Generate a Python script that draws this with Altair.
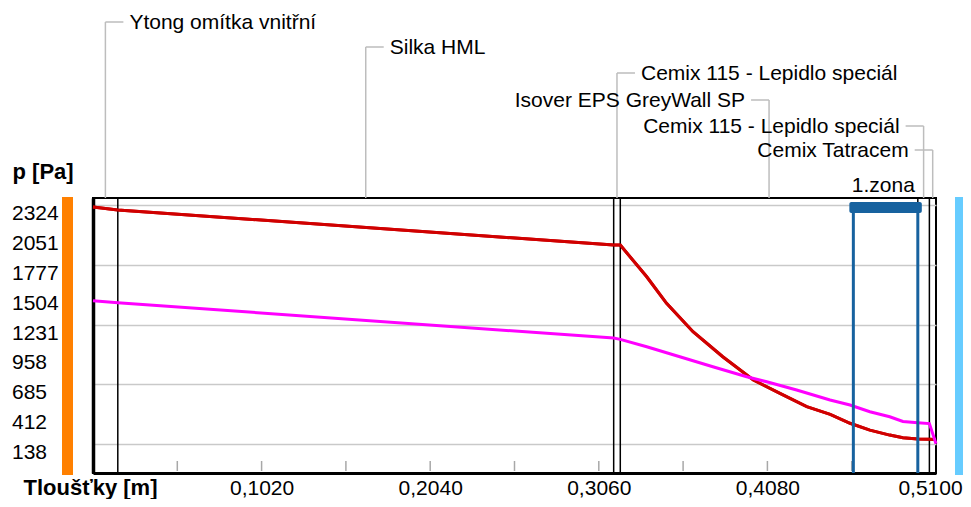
import altair as alt
import pandas as pd
from itertools import accumulate

# ---------------- data ----------------
layer_names = ["Ytong omítka vnitřní", "Silka HML", "Cemix 115 - Lepidlo speciál",
               "Isover EPS GreyWall SP", "Cemix 115 - Lepidlo speciál", "Cemix Tatracem"]
layer_thickness = [0.015, 0.300, 0.004, 0.180, 0.007, 0.004]

# saturated vapour pressure (red)
dist_psat = [0.000, 0.015, 0.315, 0.319, 0.335, 0.347, 0.363, 0.381, 0.3995, 0.4156,
             0.4318, 0.446, 0.458, 0.470, 0.482, 0.490, 0.499, 0.506, 0.510]
p_sat = [2308, 2281, 1960, 1959, 1669, 1426, 1166, 937, 724, 602,
         480, 410, 328, 265, 220, 195, 184, 181, 180]

# partial vapour pressure (magenta)
dist_p = [0.000, 0.015, 0.315, 0.319, 0.335, 0.355, 0.375, 0.3955, 0.4076, 0.4257,
          0.4459, 0.458, 0.470, 0.482, 0.490, 0.499, 0.506, 0.510]
p_part = [1450, 1431, 1108, 1096, 1029, 937, 846, 754, 708, 633,
          541, 495, 434, 388, 345, 333, 325, 140]

y_tick_values = [138, 412, 685, 958, 1231, 1504, 1777, 2051, 2324]
x_label_values = [0.102, 0.204, 0.306, 0.408, 0.510]
x_minor_ticks = [0.051, 0.102, 0.153, 0.204, 0.255, 0.306, 0.357, 0.408, 0.459]
zone_start, zone_end = 0.460, 0.499
zone_label = "1.zona"

# ---------------- layout / style ----------------
W, H = 843, 275
X_DOMAIN = [0, 0.51]
Y_DOMAIN = [-127, 2390]
FONT = "Liberation Sans"
label_rows = [-176, -151, -125, -98, -72, -48]          # px above plot top
label_side = ["right", "right", "right", "left", "left", "left"]
LEADER = "#bdbdbd"
ZONE_BLUE = "#17629f"

bounds = list(accumulate(layer_thickness))
centers = [b - t / 2 for b, t in zip(bounds, layer_thickness)]
inner_bounds = bounds[:-1]

xs = alt.Scale(domain=X_DOMAIN, nice=False, zero=False)
ys = alt.Scale(domain=Y_DOMAIN, nice=False, zero=False)

one = pd.DataFrame({"k": [0]})

df_sat = pd.DataFrame({"x": dist_psat, "p": p_sat})
df_p = pd.DataFrame({"x": dist_p, "p": p_part})
df_yt = pd.DataFrame({"p": y_tick_values})

x_axis = alt.Axis(values=x_label_values,
                  labelExpr="replace(format(datum.value, '.4f'), '.', ',')",
                  grid=False, ticks=False, domainColor="black", domainWidth=3,
                  labelFont=FONT, labelFontSize=21, labelColor="black",
                  labelPadding=21, labelBaseline="alphabetic", labelFlush=False,
                  labelOverlap=False,
                  labelOffset={"condition": {"test": "datum.value > 0.5", "value": -6},
                               "value": 0},
                  title="Tloušťky [m]", titleFont=FONT, titleFontSize=22,
                  titleFontWeight="bold", titleColor="black",
                  titleX=-70, titleY=21, titleAlign="left", titleBaseline="alphabetic")
y_axis = alt.Axis(values=y_tick_values, grid=True, gridColor="#c9c9c9",
                  gridWidth=1.5, ticks=False, labels=False,
                  domainColor="black", domainWidth=3.5,
                  title="p [Pa]", titleFont=FONT, titleFontSize=22, titleFontWeight="bold",
                  titleColor="black", titleAngle=0, titleX=-81, titleY=-20,
                  titleAlign="left", titleBaseline="alphabetic")


def X(field):
    return alt.X(field, type="quantitative", scale=xs)


layers = []

# curves layer carries both axes (and gridlines)
layers.append(alt.Chart(df_sat).mark_line(color="#d00000", strokeWidth=3).encode(
    x=alt.X("x:Q", scale=xs, axis=x_axis),
    y=alt.Y("p:Q", scale=ys, axis=y_axis)))

# y tick labels (left aligned, sitting just below their gridline)
layers.append(alt.Chart(df_yt).mark_text(align="left", baseline="middle", dy=9,
                                          font=FONT, fontSize=21, color="black").encode(
    x=alt.value(-81), y=alt.Y("p:Q", scale=ys), text=alt.Text("p:Q", format="d")))

# layer boundaries
df_b = pd.DataFrame({"x": inner_bounds})
layers.append(alt.Chart(df_b).mark_rule(color="black", strokeWidth=1.5).encode(
    x=X("x"), y=alt.value(0), y2=alt.value(H)))

# minor ticks at the bottom
df_t = pd.DataFrame({"x": x_minor_ticks})
layers.append(alt.Chart(df_t).mark_rule(color="#a8a8a8", strokeWidth=1.5).encode(
    x=X("x"), y=alt.value(H - 12), y2=alt.value(H - 2)))

layers.append(alt.Chart(df_sat).mark_line(color="#d00000", strokeWidth=3).encode(
    x=X("x"), y=alt.Y("p:Q", scale=ys)))
layers.append(alt.Chart(df_p).mark_line(color="#ff00ff", strokeWidth=3).encode(
    x=X("x"), y=alt.Y("p:Q", scale=ys)))

# zone
df_z = pd.DataFrame({"x": [zone_start, zone_end]})
layers.append(alt.Chart(df_z).mark_rule(color=ZONE_BLUE, strokeWidth=3).encode(
    x=X("x"), y=alt.value(4), y2=alt.value(H)))
df_zb = pd.DataFrame({"x": [zone_start], "x2": [zone_end], "lab": [zone_label]})
layers.append(alt.Chart(df_zb).mark_rect(color=ZONE_BLUE, xOffset=-4, x2Offset=4,
                                          cornerRadius=2).encode(
    x=X("x"), x2="x2:Q", y=alt.value(4), y2=alt.value(15)))
layers.append(alt.Chart(df_zb).mark_text(align="right", baseline="alphabetic", dx=-3,
                                          font=FONT, fontSize=21, color="black").encode(
    x=X("x2"), y=alt.value(-6), text="lab:N"))

# layer name labels with leader lines
for name, c, ry, side in zip(layer_names, centers, label_rows, label_side):
    d = pd.DataFrame({"x": [c], "name": [name]})
    sgn = 1 if side == "right" else -1
    layers.append(alt.Chart(d).mark_rule(color=LEADER, strokeWidth=1.5).encode(
        x=X("x"), y=alt.value(ry), y2=alt.value(0)))
    layers.append(alt.Chart(d).mark_rule(color=LEADER, strokeWidth=1.5,
                                         x2Offset=18 * sgn).encode(
        x=X("x"), x2="x:Q", y=alt.value(ry)))
    layers.append(alt.Chart(d).mark_text(align="left" if side == "right" else "right",
                                         baseline="middle", dx=24 * sgn,
                                         font=FONT, fontSize=21, color="black").encode(
        x=X("x"), y=alt.value(ry + 1), text="name:N"))

# side colour bars (interior / exterior)
layers.append(alt.Chart(one).mark_rect(color="#ff8000").encode(
    x=alt.value(-31), x2=alt.value(-20), y=alt.value(-1), y2=alt.value(H + 2)))
layers.append(alt.Chart(one).mark_rect(color="#66ccff").encode(
    x=alt.value(W + 19), x2=alt.value(W + 27), y=alt.value(-1), y2=alt.value(H + 2)))

chart = alt.layer(*layers).properties(
    width=W, height=H,
    padding={"left": 85, "top": 190, "right": 27, "bottom": 26},
    autosize=alt.AutoSizeParams(type="none"),
    background="white",
).configure(font=FONT).configure_axis(labelOverlap=False).configure_view(
    stroke="black", strokeWidth=2)

chart.save("out.html", embed_options={"renderer": "svg", "actions": False})
